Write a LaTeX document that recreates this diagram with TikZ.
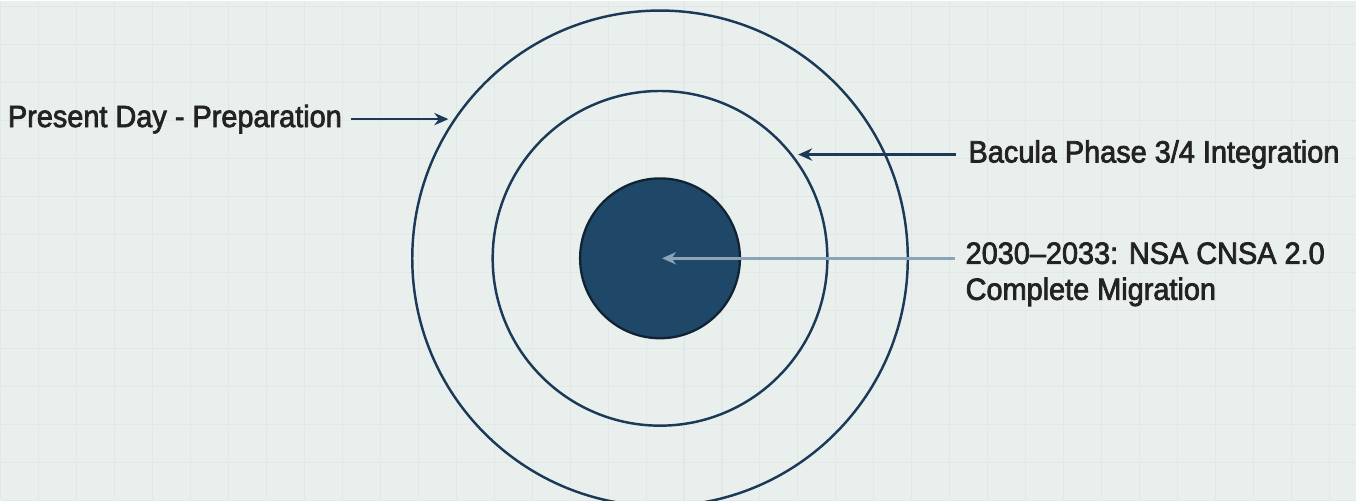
\documentclass[tikz,border=0pt]{standalone}
\usepackage{fontspec}
\setmainfont{Liberation Sans}[FakeStretch=0.94, FakeBold=2.4]
\usepackage{xcolor}
\definecolor{ringnavy}{RGB}{27,58,87}
\definecolor{corefill}{RGB}{31,71,104}
\definecolor{corearrow}{RGB}{140,164,184}
\definecolor{paperbg}{RGB}{233,239,237}
\definecolor{gridline}{RGB}{225,232,230}
\definecolor{labeltext}{RGB}{34,34,34}
\usetikzlibrary{arrows.meta,positioning,calc}

\begin{document}
\begin{tikzpicture}[x=0.02cm, y=0.02cm]
  % background
  \fill[paperbg] (0,0) rectangle (1357,500);
  \draw[gridline, line width=0.6pt, step=38] (0,0) grid (1357,500);
  \useasboundingbox (0,0) rectangle (1357,500);

  \coordinate (c) at (660,242);
  \node[draw=ringnavy, line width=1.4pt, circle, minimum size=9.92cm, inner sep=0pt] (outer) at (c) {};
  \node[draw=ringnavy, line width=1.4pt, circle, minimum size=6.7cm, inner sep=0pt] (middle) at (c) {};
  \node[draw=ringnavy!60!black, fill=corefill, line width=1.3pt, circle, minimum size=3.2cm, inner sep=0pt] (core) at (c) {};
  \coordinate (coretip) at ($(c)+(2,0)$);

  \node[anchor=east, font=\fontsize{17.5}{20.5}\selectfont, text=labeltext, inner sep=2pt] (present) at ($(outer.146.2)+(-108,0)$) {Present Day - Preparation};
  \node[anchor=west, font=\fontsize{17.5}{20.5}\selectfont, text=labeltext, inner sep=2pt] (bacula) at ($(middle.38.9)+(172,0)$) {Bacula Phase 3/4 Integration};
  \node[anchor=west, font=\fontsize{17.5}{20.5}\selectfont, text=labeltext, inner sep=2pt, align=left] (cnsa) at (962,226) {2030--2033: NSA CNSA 2.0\\Complete Migration};
  \coordinate (cnsastart) at (955,242);

  \draw[-{Stealth[length=8pt,width=7pt]}, line width=1.4pt, ringnavy, shorten <=3pt, shorten >=3pt] (present.east) -- (outer.146.2);
  \draw[-{Stealth[length=8pt,width=7pt]}, line width=1.4pt, ringnavy, shorten <=5pt, shorten >=3pt] (bacula.west) -- (middle.38.9);
  \draw[-{Stealth[length=8pt,width=7pt]}, line width=1.4pt, corearrow] (cnsastart) -- (coretip);
\end{tikzpicture}
\end{document}
